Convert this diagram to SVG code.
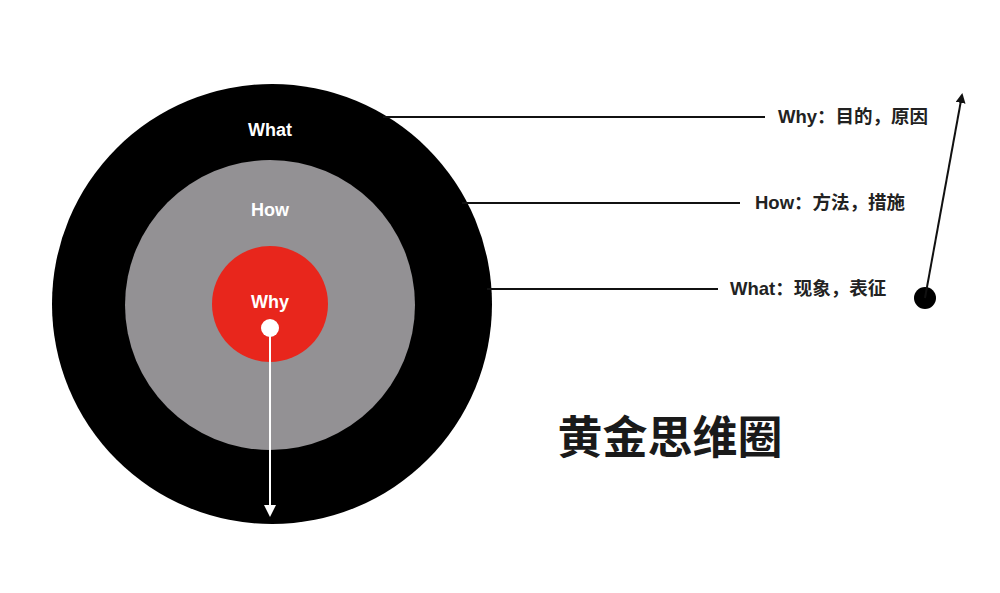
<svg xmlns="http://www.w3.org/2000/svg" width="1000" height="593" viewBox="0 0 1000 593">
<style>
.in{font-family:"Liberation Sans","Noto Sans CJK SC",sans-serif;font-weight:bold;font-size:18px;fill:#fff;text-anchor:middle}
.lb{font-family:"Liberation Sans","Noto Sans CJK SC",sans-serif;font-weight:bold;font-size:18.5px;fill:#222}
.ln{stroke:#111;stroke-width:2;fill:none}
.title{font-family:"Noto Sans CJK SC",sans-serif;font-weight:bold;font-size:45px;fill:#1a1a1a;text-anchor:middle}
</style>
<defs>
<marker id="ah" markerWidth="10" markerHeight="10" refX="8" refY="5" orient="auto" markerUnits="userSpaceOnUse"><path d="M0,0 L10,5 L0,10 Z" fill="#111"/></marker>
<marker id="ahw" markerWidth="12" markerHeight="12" refX="10" refY="6" orient="auto" markerUnits="userSpaceOnUse"><path d="M0,0 L12,6 L0,12 Z" fill="#fff"/></marker>
</defs>
<rect width="1000" height="593" fill="#fff"/>
<g id="outer"><circle cx="272" cy="304" r="220" fill="#000"/><text class="in" x="270" y="136">What</text></g>
<g id="middle"><circle cx="270" cy="305" r="145" fill="#939194"/><text class="in" x="270" y="216">How</text></g>
<g id="inner"><circle cx="270" cy="304" r="58" fill="#e8261c"/><text class="in" x="270" y="308">Why</text></g>
<g id="labels">
<text class="lb" x="778" y="123">Why：目的，原因</text>
<text class="lb" x="755" y="209">How：方法，措施</text>
<text class="lb" x="730" y="295">What：现象，表征</text>
</g>
<g id="title"><text class="title" x="670" y="454">黄金思维圈</text></g>
<g id="connectors">
<line class="ln" x1="383" y1="117" x2="765" y2="117"/>
<line class="ln" x1="462" y1="203" x2="740" y2="203"/>
<line class="ln" x1="487" y1="289" x2="718" y2="289"/>
<circle cx="925" cy="298" r="11" fill="#000"/>
<line class="ln" x1="925" y1="298" x2="962" y2="95" marker-end="url(#ah)"/>
<circle cx="270" cy="328" r="9" fill="#fff"/>
<line x1="270" y1="328" x2="270" y2="515" stroke="#fff" stroke-width="2" marker-end="url(#ahw)"/>
</g>
</svg>
